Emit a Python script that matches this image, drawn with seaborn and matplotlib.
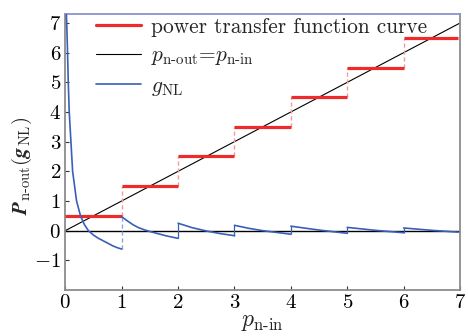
import matplotlib
matplotlib.use("Agg")
import matplotlib.pyplot as plt
import seaborn as sns
import pandas as pd
from matplotlib.lines import Line2D

# ---- data ----
step_left = [0, 1, 2, 3, 4, 5, 6]
step_right = [1, 2, 3, 4, 5, 6, 6.97]
step_level = [0.5, 1.5, 2.5, 3.5, 4.5, 5.5, 6.5]

identity_x = [0, 7]
identity_y = [0, 7]

g0_x = [0.02, 0.03, 0.04, 0.053, 0.07, 0.1, 0.13, 0.2, 0.27, 0.34, 0.41, 0.5, 0.58, 0.67, 0.76, 0.85, 0.93, 1.0]
g0_y = [7.3, 6.7, 6.0, 5.0, 4.0, 3.0, 2.0, 1.0, 0.5, 0.2, 0.0, -0.15, -0.25, -0.34, -0.43, -0.52, -0.58, -0.62]
g1_x = [1.0, 1.1, 1.2, 1.3, 1.4, 1.5, 1.6, 1.7, 1.8, 1.9, 2.0]
g1_y = [0.47, 0.33, 0.2, 0.1, 0.03, -0.03, -0.08, -0.13, -0.18, -0.22, -0.26]
g2_x = [2.0, 2.25, 2.5, 2.75, 3.0]
g2_y = [0.25, 0.1, -0.01, -0.1, -0.17]
g3_x = [3.0, 3.25, 3.5, 3.75, 4.0]
g3_y = [0.18, 0.08, 0.0, -0.06, -0.12]
g4_x = [4.0, 4.5, 5.0]
g4_y = [0.15, 0.02, -0.09]
g5_x = [5.0, 5.5, 6.0]
g5_y = [0.11, 0.01, -0.07]
g6_x = [6.0, 6.5, 6.97]
g6_y = [0.09, 0.01, -0.05]

x_ticks = [0, 1, 2, 3, 4, 5, 6, 7]
y_ticks = [-1, 0, 1, 2, 3, 4, 5, 6, 7]

# ---- style ----
sns.set_theme(style="ticks")
plt.rcParams["font.family"] = ["cmr10", "DejaVu Serif"]
plt.rcParams["mathtext.fontset"] = "cm"
plt.rcParams["axes.formatter.use_mathtext"] = True

RED = "#ee2a2a"
LRED = "#f59a9a"
BLUE = "#3a5fb8"
LBLUE = "#8fa6dd"

fig = plt.figure(figsize=(4.68, 3.36), dpi=100)
ax = fig.add_axes([0.1395, 0.137, 0.8435, 0.821])

# y = 0 reference
ax.axhline(0, color="black", lw=1.0, zorder=1)

# identity line
sns.lineplot(x=identity_x, y=identity_y, ax=ax, color="black", lw=0.8, zorder=2)

# red step function
ax.hlines(step_level, step_left, step_right, color=RED, lw=2.3, zorder=3)
for k in range(1, len(step_level)):
    ax.vlines(step_left[k], step_level[k - 1], step_level[k], color=LRED,
              lw=1.0, linestyles=(0, (3, 2)), zorder=2)

# g_NL segments
segs = [(g0_x, g0_y), (g1_x, g1_y), (g2_x, g2_y), (g3_x, g3_y),
        (g4_x, g4_y), (g5_x, g5_y), (g6_x, g6_y)]
for sx, sy in segs:
    df = pd.DataFrame({"x": sx, "y": sy})
    sns.lineplot(data=df, x="x", y="y", ax=ax, color=BLUE, lw=1.2, sort=False, zorder=4)
for i in range(1, len(segs)):
    prev_end = segs[i - 1][1][-1]
    start = segs[i][1][0]
    if i == 1:
        ax.vlines(segs[i][0][0], prev_end, start, color=LBLUE, lw=1.0,
                  linestyles=(0, (3, 2)), zorder=3)
    else:
        ax.vlines(segs[i][0][0], prev_end, start, color=BLUE, lw=0.9, zorder=3)

ax.set_xlim(0, 6.97)
ax.set_ylim(-2, 7.3)
ax.set_xticks(x_ticks)
ax.set_xticklabels([f"${t}$" for t in x_ticks])
ax.set_yticks(y_ticks)
ax.set_yticklabels([f"${t}$" for t in y_ticks])
ax.tick_params(direction="in", length=3, width=0.8, labelsize=15, colors="#333333",
               labelcolor="black", pad=3)
for side in ["left", "bottom", "right"]:
    ax.spines[side].set_color("#8c8c8c")
    ax.spines[side].set_linewidth(1.3)
ax.spines["top"].set_color("#8c92cf")
ax.spines["top"].set_linewidth(1.3)

ax.set_xlabel(r"$p_{\mathrm{n\text{-}in}}$", fontsize=17, labelpad=-1)
ax.set_ylabel(r"$\mathbfit{P}_{\mathrm{n\text{-}out}}(\mathbfit{g}_{\mathrm{NL}})$",
              fontsize=15)
ax.yaxis.set_label_coords(-0.08, 0.45)

handles = [Line2D([], [], color=RED, lw=2.3),
           Line2D([], [], color="black", lw=0.8),
           Line2D([], [], color=BLUE, lw=1.2)]
labels = ["power transfer function curve",
          r"$p_{\mathrm{n\text{-}out}}$=$p_{\mathrm{n\text{-}in}}$",
          r"$g_{\mathrm{NL}}$"]
leg = ax.legend(handles, labels, loc="upper left", bbox_to_anchor=(0.045, 1.035),
                frameon=False, fontsize=15.4, handlelength=2.1, handletextpad=0.47,
                labelspacing=0.42, borderaxespad=0.2)

fig.savefig("out.png", dpi=100)
